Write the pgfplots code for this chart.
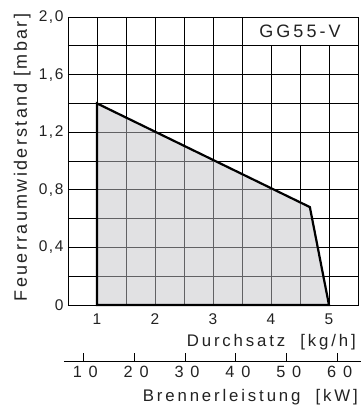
\documentclass[border=0pt]{standalone}
\usepackage{fontspec}
\setmainfont{Liberation Sans}
\newfontfamily\ticksp[LetterSpace=10]{Liberation Sans}
\newfontfamily\spaced[LetterSpace=17]{Liberation Sans}
\newfontfamily\ylab[LetterSpace=13]{Liberation Sans}
\newfontfamily\wide[LetterSpace=42]{Liberation Sans}
\usepackage{pgfplots}
\pgfplotsset{compat=1.18}
\definecolor{txt}{HTML}{222222}
\definecolor{fillc}{HTML}{C3C3C8}
\begin{document}
\begin{tikzpicture}
\useasboundingbox (-68pt,-105pt) rectangle (293pt,305pt);
\begin{axis}[at={(0,0)}, anchor=south west, scale only axis,
  width=290pt, height=288pt,
  xmin=0.5, xmax=5.5, ymin=0, ymax=2,
  xtick={1,2,3,4,5}, xticklabels={1,2,3,4,5},
  minor xtick={0.5,1.5,2.5,3.5,4.5},
  ytick={0,0.4,0.8,1.2,1.6,2.0}, yticklabels={0,{0,4},{0,8},{1,2},{1,6},{2,0}},
  minor ytick={0.2,0.6,1.0,1.4,1.8},
  grid=both, grid style={black, line width=0.8pt}, minor grid style={black, line width=0.8pt},
  major tick length=0pt, minor tick length=0pt,
  axis line style={black, line width=0.8pt},
  tick label style={font=\fontsize{15.5}{18}\ticksp, text=txt},
  xticklabel style={yshift=-5pt}, yticklabel style={xshift=-1pt},
  clip=false]
\addplot[draw=black, line width=2.2pt, fill=fillc, fill opacity=0.5, draw opacity=1, line join=miter]
  coordinates {(1,0) (1,1.4) (4.67,0.68) (5.0,0)} \closedcycle;
\node[draw=black, line width=0.8pt, fill=white, minimum width=116pt, minimum height=28.8pt, inner sep=0pt,
  font=\fontsize{18}{21}\spaced, text=txt] at (axis cs:4.5,1.9) {GG55-V};
\end{axis}
\begin{axis}[at={(-4pt,-56pt)}, anchor=south west, scale only axis,
  width=297pt, height=10pt,
  xmin=6.2, xmax=64.6, ymin=0, ymax=1,
  axis x line*=bottom, axis y line=none,
  xtick={10,20,30,40,50,60}, xticklabels={10,20,30,40,50,60},
  tick align=inside, major tick length=8pt,
  axis line style={black, line width=0.8pt, -},
  tick style={black, line width=0.8pt},
  xticklabel style={font=\fontsize{16.3}{19}\wide, text=txt, yshift=-2pt, xshift=2pt}]
\addplot[draw=none] coordinates {(10,0.5)};
\end{axis}
\node[anchor=base east, text=txt, font=\fontsize{16.8}{20}\spaced, inner sep=0pt] at (288pt,-41.3pt) {Durchsatz\hspace{0.9em}[kg/h]};
\node[anchor=base east, text=txt, font=\fontsize{16.8}{20}\spaced, inner sep=0pt] at (290pt,-96pt) {Brennerleistung\hspace{0.9em}[kW]};
\node[rotate=90, anchor=base, text=txt, font=\fontsize{18}{21}\ylab, inner sep=0pt] at (-41pt,147.5pt) {Feuerraumwiderstand [mbar]};
\end{tikzpicture}
\end{document}
